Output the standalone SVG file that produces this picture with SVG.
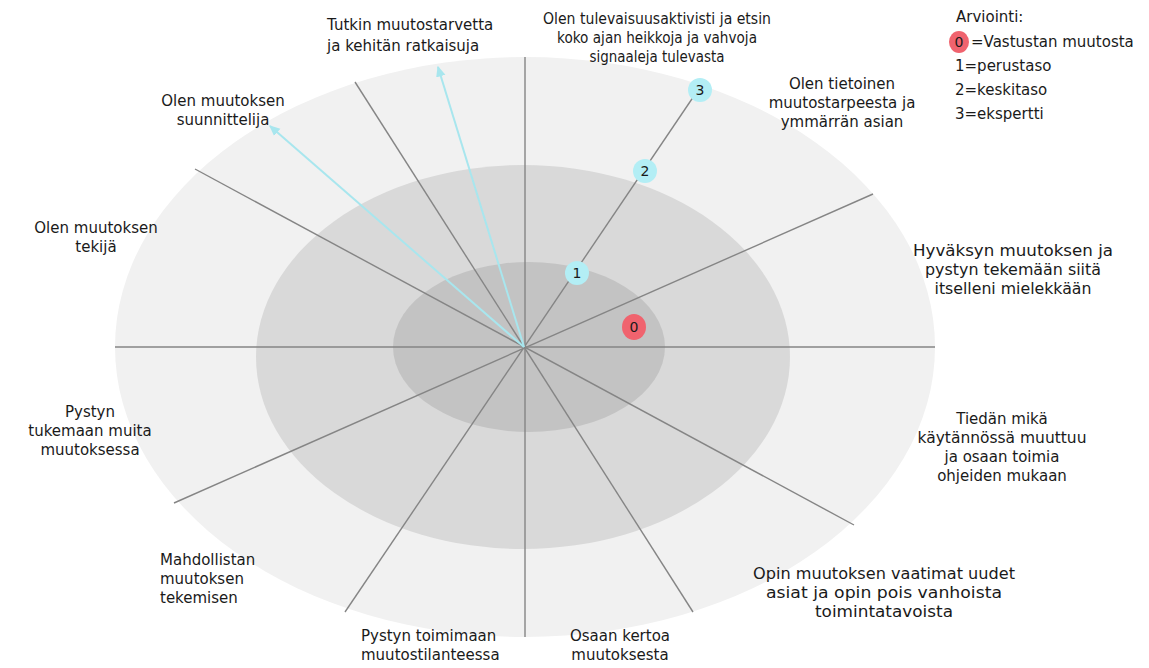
<svg xmlns="http://www.w3.org/2000/svg" width="1149" height="668" viewBox="0 0 1149 668">
<style>
text{font-family:"DejaVu Sans","Verdana",sans-serif;font-size:15px;fill:#1a1a1a}
.c{text-anchor:middle}
.ax{stroke:#858585;stroke-width:1.4;fill:none}
.ar{stroke:#a8e6ee;stroke-width:2;fill:none}
.cy{fill:#b3eef5}
.rd{fill:#f0636e}
.mk{font-size:14px;text-anchor:middle}
</style>
<defs>
<marker id="ah" viewBox="0 0 10 10" refX="8" refY="5" markerWidth="6" markerHeight="6" orient="auto">
<path d="M0,1 L9,5 L0,9 z" fill="#a8e6ee"/>
</marker>
</defs>
<g id="rings">
<ellipse cx="525" cy="347" rx="410" ry="290" fill="#f1f1f1"/>
<ellipse cx="523" cy="357" rx="267" ry="192" fill="#d9d9d9"/>
<ellipse cx="529" cy="347" rx="136" ry="85" fill="#c3c3c3"/>
</g>
<g id="connectors">
<line class="ax" x1="115" y1="347" x2="935" y2="347"/>
<line class="ax" x1="525" y1="57" x2="525" y2="637"/>
<line class="ax" x1="700" y1="87" x2="345" y2="612"/>
<line class="ax" x1="355" y1="82" x2="693" y2="612"/>
<line class="ax" x1="195" y1="169" x2="854" y2="525"/>
<line class="ax" x1="873" y1="194" x2="174" y2="503"/>
<line class="ar" x1="524" y1="347" x2="270" y2="126" marker-end="url(#ah)"/>
<line class="ar" x1="524" y1="347" x2="438" y2="67" marker-end="url(#ah)"/>
</g>
<g id="marker-3"><circle class="cy" cx="700" cy="90" r="12"/><text class="mk" x="700" y="95">3</text></g>
<g id="marker-2"><circle class="cy" cx="645" cy="171" r="12"/><text class="mk" x="645" y="176">2</text></g>
<g id="marker-1"><circle class="cy" cx="577" cy="273" r="12"/><text class="mk" x="577" y="278">1</text></g>
<g id="marker-0"><ellipse class="rd" cx="634" cy="327" rx="12" ry="13"/><text class="mk" x="634" y="332">0</text></g>
<g id="label-top">
<text class="c" x="657" y="24" textLength="228" lengthAdjust="spacingAndGlyphs">Olen tulevaisuusaktivisti ja etsin</text>
<text class="c" x="657" y="43" textLength="200" lengthAdjust="spacingAndGlyphs">koko ajan heikkoja ja vahvoja</text>
<text class="c" x="657" y="62" textLength="135" lengthAdjust="spacingAndGlyphs">signaaleja tulevasta</text>
</g>
<g id="label-tutkin">
<text x="327" y="30">Tutkin muutostarvetta</text>
<text x="327" y="51">ja kehitän ratkaisuja</text>
</g>
<g id="label-suunnittelija">
<text class="c" x="223" y="106">Olen muutoksen</text>
<text class="c" x="223" y="125">suunnittelija</text>
</g>
<g id="label-tekija">
<text class="c" x="96" y="233">Olen muutoksen</text>
<text class="c" x="96" y="252">tekijä</text>
</g>
<g id="label-tukemaan">
<text class="c" x="90" y="417">Pystyn</text>
<text class="c" x="90" y="436">tukemaan muita</text>
<text class="c" x="90" y="455">muutoksessa</text>
</g>
<g id="label-mahdollistan">
<text x="160" y="565">Mahdollistan</text>
<text x="160" y="584">muutoksen</text>
<text x="160" y="603">tekemisen</text>
</g>
<g id="label-toimimaan">
<text x="361" y="641">Pystyn toimimaan</text>
<text x="361" y="660">muutostilanteessa</text>
</g>
<g id="label-kertoa">
<text class="c" x="620" y="641">Osaan kertoa</text>
<text class="c" x="620" y="660">muutoksesta</text>
</g>
<g id="label-opin">
<text class="c" x="884" y="579" textLength="262" lengthAdjust="spacingAndGlyphs">Opin muutoksen vaatimat uudet</text>
<text class="c" x="884" y="598" textLength="236" lengthAdjust="spacingAndGlyphs">asiat ja opin pois vanhoista</text>
<text class="c" x="884" y="617" textLength="138" lengthAdjust="spacingAndGlyphs">toimintatavoista</text>
</g>
<g id="label-tiedan">
<text class="c" x="1002" y="424">Tiedän mikä</text>
<text class="c" x="1002" y="443" textLength="169" lengthAdjust="spacingAndGlyphs">käytännössä muuttuu</text>
<text class="c" x="1002" y="462">ja osaan toimia</text>
<text class="c" x="1002" y="481">ohjeiden mukaan</text>
</g>
<g id="label-hyvaksyn">
<text class="c" x="1013" y="256" textLength="200" lengthAdjust="spacingAndGlyphs">Hyväksyn muutoksen ja</text>
<text class="c" x="1013" y="275" textLength="176" lengthAdjust="spacingAndGlyphs">pystyn tekemään siitä</text>
<text class="c" x="1013" y="294" textLength="157" lengthAdjust="spacingAndGlyphs">itselleni mielekkään</text>
</g>
<g id="label-tietoinen">
<text class="c" x="842" y="89">Olen tietoinen</text>
<text class="c" x="842" y="108">muutostarpeesta ja</text>
<text class="c" x="842" y="127">ymmärrän asian</text>
</g>
<g id="legend">
<text x="956" y="22">Arviointi:</text>
<ellipse class="rd" cx="959" cy="42" rx="10" ry="11"/>
<text class="mk" x="959" y="47">0</text>
<text x="971" y="47">=Vastustan muutosta</text>
<text x="955" y="71">1=perustaso</text>
<text x="955" y="95">2=keskitaso</text>
<text x="955" y="119">3=ekspertti</text>
</g>
</svg>
